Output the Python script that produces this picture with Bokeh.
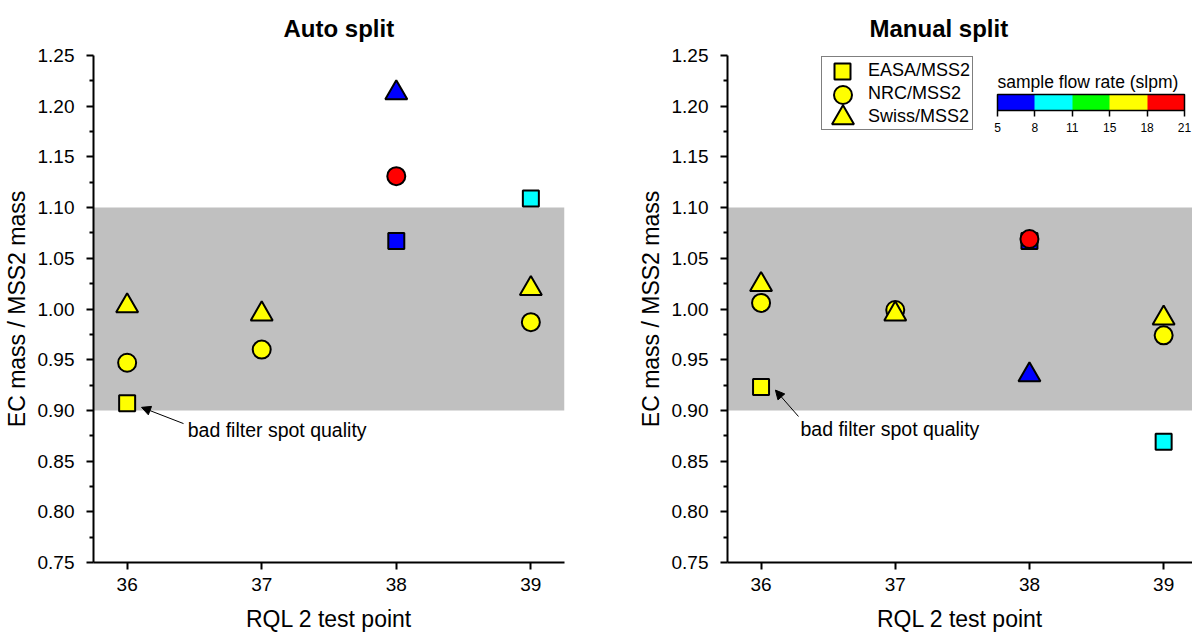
from bokeh.plotting import figure
from bokeh.layouts import row
from bokeh.models import (BoxAnnotation, Label, Arrow, NormalHead, Legend, LegendItem,
                          ColorBar, LinearColorMapper, FixedTicker, NumeralTickFormatter)
from bokeh.embed import file_html
from bokeh.resources import INLINE

FONT = "Liberation Sans"

# sample flow rate classes (slpm) and their colours
flow_bounds = [5, 8, 11, 15, 18, 21]
flow_colors = ["#0000ff", "#00ffff", "#00ff00", "#ffff00", "#ff0000"]

test_points = [36, 37, 38, 39]
y_ticks = [0.75, 0.80, 0.85, 0.90, 0.95, 1.00, 1.05, 1.10, 1.15, 1.20, 1.25]
y_minor = [0.775, 0.825, 0.875, 0.925, 0.975, 1.025, 1.075, 1.125, 1.175, 1.225]
band_low, band_high = 0.90, 1.10

# Auto split: ratio to MSS2 and flow-rate class index
auto_easa_x = [36, 38, 39]
auto_easa = [0.907, 1.067, 1.109]
auto_easa_flow = [3, 0, 1]
auto_nrc_x = [36, 37, 38, 39]
auto_nrc = [0.947, 0.960, 1.131, 0.987]
auto_nrc_flow = [3, 3, 4, 3]
auto_swiss_x = [36, 37, 38, 39]
auto_swiss = [1.003, 0.995, 1.213, 1.020]
auto_swiss_flow = [3, 3, 0, 3]

# Manual split
manual_easa_x = [36, 38, 39]
manual_easa = [0.923, 1.067, 0.869]
manual_easa_flow = [3, 0, 1]
manual_nrc_x = [36, 37, 38, 39]
manual_nrc = [1.006, 0.999, 1.069, 0.974]
manual_nrc_flow = [3, 3, 4, 3]
manual_swiss_x = [36, 37, 38, 39]
manual_swiss = [1.024, 0.995, 0.935, 0.991]
manual_swiss_flow = [3, 3, 0, 3]

series_names = ["EASA/MSS2", "NRC/MSS2", "Swiss/MSS2"]
series_markers = ["square", "circle", "triangle"]
series_sizes = [16, 18, 22]


def make_panel(title, width, border_left, border_right, x_end, title_shift, data):
    p = figure(width=width, height=635, x_range=(35.75, x_end), y_range=(0.75, 1.25),
               output_backend="svg", toolbar_location=None,
               min_border_left=border_left, min_border_right=border_right,
               min_border_top=55, min_border_bottom=73)
    p.title.text = title
    p.title.align = "left"
    p.title.offset = title_shift
    p.title.vertical_align = "top"
    p.title.text_font = FONT
    p.title.text_font_size = "24px"
    p.title.text_font_style = "bold"
    p.title.text_color = "black"
    p.title.standoff = 24
    p.grid.visible = False
    p.outline_line_color = None
    p.background_fill_color = "white"

    p.add_layout(BoxAnnotation(bottom=band_low, top=band_high, fill_color="#c0c0c0",
                               fill_alpha=1.0, line_color=None, level="underlay"))

    renderers = []
    for (xs, ys, flow), marker, size in zip(data, series_markers, series_sizes):
        colors = [flow_colors[i] for i in flow]
        r = p.scatter(x=xs, y=ys, marker=marker, size=size, fill_color=colors,
                      line_color="black", line_width=2)
        renderers.append(r)

    for ax in (p.xaxis[0], p.yaxis[0]):
        ax.axis_line_width = 2
        ax.major_tick_line_width = 2
        ax.minor_tick_line_width = 2
        ax.major_tick_in = 0
        ax.major_tick_out = 7
        ax.minor_tick_in = 0
        ax.minor_tick_out = 4
        ax.major_label_text_font = FONT
        ax.major_label_text_font_size = "19px"
        ax.major_label_text_color = "black"
        ax.axis_label_text_font = FONT
        ax.axis_label_text_font_size = "23px"
        ax.axis_label_text_font_style = "normal"
        ax.axis_label_text_color = "black"

    p.xaxis[0].ticker = FixedTicker(ticks=test_points, minor_ticks=[])
    p.xaxis[0].axis_label = "RQL 2 test point"
    p.xaxis[0].major_label_standoff = 8
    p.xaxis[0].axis_label_standoff = 12
    p.yaxis[0].ticker = FixedTicker(ticks=y_ticks, minor_ticks=y_minor)
    p.yaxis[0].formatter = NumeralTickFormatter(format="0.00")
    p.yaxis[0].axis_label = "EC mass / MSS2 mass"
    p.yaxis[0].major_label_standoff = 12
    p.yaxis[0].axis_label_standoff = 5
    return p, renderers


def annotate(p, tip, tail, text_at):
    p.add_layout(Arrow(end=NormalHead(size=9, fill_color="black", line_color="black"),
                       x_start=tail[0], y_start=tail[1], x_end=tip[0], y_end=tip[1],
                       line_color="black", line_width=1))
    p.add_layout(Label(x=text_at[0], y=text_at[1], text="bad filter spot quality",
                       text_font=FONT, text_font_size="19.5px", text_baseline="middle",
                       text_align="left", text_color="black"))


left, _ = make_panel("Auto split", 600, 93, 36, 39.25, 190, [
    (auto_easa_x, auto_easa, auto_easa_flow),
    (auto_nrc_x, auto_nrc, auto_nrc_flow),
    (auto_swiss_x, auto_swiss, auto_swiss_flow),
])
annotate(left, (36.107, 0.903), (36.419, 0.887), (36.45, 0.881))

right, rends = make_panel("Manual split", 592, 127, 0, 39.215, 142, [
    (manual_easa_x, manual_easa, manual_easa_flow),
    (manual_nrc_x, manual_nrc, manual_nrc_flow),
    (manual_swiss_x, manual_swiss, manual_swiss_flow),
])
annotate(right, (36.107, 0.920), (36.279, 0.894), (36.294, 0.882))

# legend: framed text column, with full-size symbols laid over it
key = right.scatter(x=[], y=[], marker="square", size=1, fill_alpha=0, line_alpha=0)
text_legend = Legend(items=[LegendItem(label=n, renderers=[key]) for n in series_names],
                     location=(94, 432), glyph_width=34, glyph_height=22, spacing=1,
                     padding=2, margin=0, label_standoff=10, label_height=22,
                     label_text_font=FONT, label_text_font_size="18px",
                     label_text_color="black",
                     border_line_color="black", border_line_width=1,
                     background_fill_color="white", background_fill_alpha=1.0)
right.add_layout(text_legend)

row_centers = [71, 94, 117]
for r, yc, size in zip(rends, row_centers, series_sizes):
    box = size / 0.4
    sym = Legend(items=[LegendItem(label=" ", renderers=[r], index=0)],
                 location=(843 - box / 2 - 728, 562 - (yc + box / 2)),
                 glyph_width=int(box), glyph_height=int(box), padding=0, margin=0,
                 label_standoff=0, label_width=1, label_text_alpha=0,
                 border_line_color=None, background_fill_alpha=0)
    right.add_layout(sym)

mapper = LinearColorMapper(palette=flow_colors, low=0, high=len(flow_colors))
cbar = ColorBar(color_mapper=mapper, orientation="horizontal", width=187, height=16,
                ticker=FixedTicker(ticks=list(range(len(flow_bounds)))),
                major_label_overrides={i: str(b) for i, b in enumerate(flow_bounds)},
                title="sample flow rate (slpm)", title_text_font=FONT,
                title_text_font_size="17.5px", title_text_font_style="normal",
                title_text_color="black", title_standoff=5,
                major_label_text_font=FONT, major_label_text_font_size="12px",
                major_label_text_color="black", label_standoff=6,
                major_tick_in=0, major_tick_out=6, major_tick_line_color="black",
                major_tick_line_width=1.5,
                bar_line_color="black", bar_line_width=1.5,
                padding=0, margin=0, background_fill_alpha=0, border_line_color=None,
                location=(270, 428))
right.add_layout(cbar)

layout = row(left, right)
open("out.html", "w").write(file_html(layout, INLINE))
